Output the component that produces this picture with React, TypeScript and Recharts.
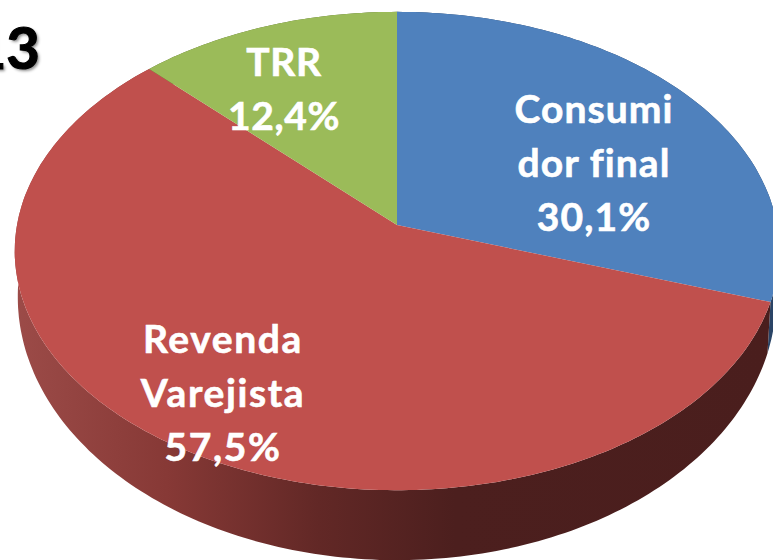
import { PieChart, Pie, Cell } from 'recharts';

const categories = ['Consumidor final', 'Revenda Varejista', 'TRR'];
const shares = [30.1, 57.5, 12.4];
const sliceColors = ['#4f81bd', '#c0504d', '#9bbb59'];
const wallColors = ['#2a4466', 'url(#redWall)', '#56682f'];
const labelLines = [['Consumi', 'dor final', '30,1%'], ['Revenda', 'Varejista', '57,5%'], ['TRR', '12,4%']];
const labelSpots = [
  { x: 594, y: 123 },
  { x: 223, y: 353 },
  { x: 284, y: 76 },
];
const labelSpacing = [1.1, 1.6, 0.6];

const data = categories.map((name, i) => ({ name, value: shares[i] }));

// the pie is tilted in perspective, so the rim is a shifted ellipse around the apex
const TILT = 0.622;
const PERSPECTIVE = 0.1088;

function rimPoints(p: any) {
  const pts: [number, number][] = [];
  const steps = Math.max(8, Math.ceil(Math.abs(p.endAngle - p.startAngle)));
  for (let i = 0; i <= steps; i++) {
    const deg = p.startAngle + ((p.endAngle - p.startAngle) * i) / steps;
    const t = (deg * Math.PI) / 180;
    const w = 1 + PERSPECTIVE * Math.sin(t);
    pts.push([
      p.cx + (p.outerRadius * Math.cos(t)) / w,
      p.cy - (p.outerRadius * TILT * Math.sin(t)) / w,
    ]);
  }
  return pts;
}

const toPath = (pts: [number, number][]) =>
  pts.map(([x, y], i) => `${i ? 'L' : 'M'}${x.toFixed(1)} ${y.toFixed(1)}`).join(' ');

function TopSlice(p: any) {
  return <path d={`M${p.cx} ${p.cy} ${toPath(rimPoints(p)).replace('M', 'L')} Z`} fill={p.fill} />;
}

// bottom rim sits lower and reads a bit taller than the top one
function WallSlice(p: any) {
  const rim = rimPoints(p);
  const lower = rim
    .map(([x, y]) => [p.cx + (x - p.cx) * 0.992, p.cy + 72 + (y - p.cy - 26) * 1.1] as [number, number])
    .reverse();
  return <path d={`${toPath(rim)} ${toPath(lower).replace('M', 'L')} Z`} fill={p.fill} />;
}

function SliceLabel(p: any) {
  const spot = labelSpots[p.index];
  return (
    <text
      x={spot.x}
      y={spot.y}
      textAnchor="middle"
      fill="#ffffff"
      stroke="#ffffff"
      strokeWidth={0.6}
      fontFamily="Lato"
      fontWeight={700}
      fontSize={39}
      letterSpacing={labelSpacing[p.index]}
    >
      {labelLines[p.index].map((line, i) => (
        <tspan key={line} x={spot.x} y={spot.y + i * 54}>
          {line}
        </tspan>
      ))}
    </text>
  );
}

export default function App() {
  return (
    <div style={{ position: 'absolute', left: 0, top: 0, width: 773, height: 560, overflow: 'hidden', background: '#fff' }}>
      <PieChart width={773} height={560} margin={{ top: 0, right: 0, bottom: 0, left: 0 }}>
        <defs>
          <linearGradient id="redWall" gradientUnits="userSpaceOnUse" x1="15" y1="0" x2="773" y2="0">
            <stop offset="0" stopColor="#9c4b48" />
            <stop offset="0.2" stopColor="#873936" />
            <stop offset="0.4" stopColor="#622826" />
            <stop offset="0.58" stopColor="#4c1f1e" />
            <stop offset="1" stopColor="#4a1e1d" />
          </linearGradient>
        </defs>
        <Pie
          data={data}
          dataKey="value"
          cx={397}
          cy={225}
          outerRadius={380}
          startAngle={90}
          endAngle={-270}
          stroke="none"
          shape={WallSlice}
          isAnimationActive={false}
        >
          {data.map((d, i) => (
            <Cell key={d.name} fill={wallColors[i]} />
          ))}
        </Pie>
        <Pie
          data={data}
          dataKey="value"
          cx={397}
          cy={225}
          outerRadius={380}
          startAngle={90}
          endAngle={-270}
          stroke="none"
          shape={TopSlice}
          label={SliceLabel}
          labelLine={false}
          isAnimationActive={false}
        >
          {data.map((d, i) => (
            <Cell key={d.name} fill={sliceColors[i]} />
          ))}
        </Pie>
      </PieChart>
      <div
        style={{
          position: 'absolute',
          right: 733,
          top: 9,
          fontFamily: 'Lato',
          fontWeight: 700,
          fontSize: 58,
          lineHeight: '76px',
          color: '#000',
          WebkitTextStroke: '1.2px #000',
          textShadow: '2px 2px 3px rgba(0,0,0,0.45)',
          whiteSpace: 'nowrap',
        }}
      >
        13
      </div>
    </div>
  );
}
